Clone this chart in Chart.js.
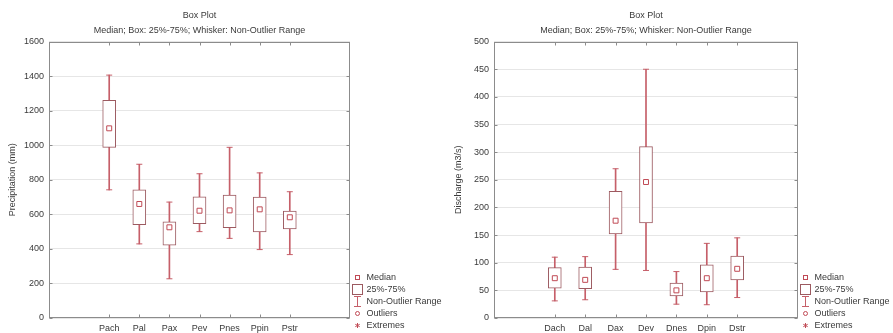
<!DOCTYPE html>
<html>
<head>
<meta charset="utf-8">
<title>Box Plot</title>
<script src="https://cdn.jsdelivr.net/npm/chart.js@4.4.1/dist/chart.umd.min.js"></script>
<style>
  html, body { margin: 0; padding: 0; background: #fff; }
  #wrap { display: flex; width: 893px; height: 333px; }
  canvas { display: block; }
</style>
</head>
<body>
<div id="wrap">
  <canvas id="precipChart" width="446" height="333"></canvas>
  <canvas id="dischargeChart" width="447" height="333"></canvas>
</div>
<script>
// Precipitation per station (mm)
const precipStations = ['Pach', 'Pal', 'Pax', 'Pev', 'Pnes', 'Ppin', 'Pstr'];
const precipMin    = [742, 429, 227, 500, 461, 396, 367];
const precipQ1     = [988, 540, 421, 546, 523, 498, 515];
const precipMedian = [1098, 660, 525, 621, 623, 629, 583];
const precipQ3     = [1260, 742, 556, 702, 711, 700, 619];
const precipMax    = [1406, 890, 671, 835, 988, 840, 731];
const precipTicks  = [0, 200, 400, 600, 800, 1000, 1200, 1400, 1600];

// Discharge per station (m3/s)
const dischargeStations = ['Dach', 'Dal', 'Dax', 'Dev', 'Dnes', 'Dpin', 'Dstr'];
const dischargeMin    = [31, 33, 88, 86, 25, 24, 37];
const dischargeQ1     = [54, 53, 152, 172, 40, 47, 69];
const dischargeMedian = [72, 69, 176, 246, 50, 72, 89];
const dischargeQ3     = [91, 92, 229, 310, 63, 96, 112];
const dischargeMax    = [110, 111, 270, 450, 84, 135, 145];
const dischargeTicks  = [0, 50, 100, 150, 200, 250, 300, 350, 400, 450, 500];

const legendNames = ['Median', '25%-75%', 'Non-Outlier Range', 'Outliers', 'Extremes'];

const FONT = '"Liberation Sans", Arial, sans-serif';
const TEXT = '#3a3a3a';
const FRAME = '#8c8c8c';
const GRID = '#e6e6e6';
const BOX_LINE = '#9c5a60';
const WHISKER = '#c65f69';
const MEDIAN = '#c04a55';

// two empty slots on each side of the stations, like the original axis
const pad = (arr) => [null, null, ...arr, null, null];

function glyph(w, h, draw) {
  const c = document.createElement('canvas');
  c.width = w; c.height = h;
  const g = c.getContext('2d');
  g.lineWidth = 1;
  draw(g);
  return c;
}

const legendGlyphs = [
  glyph(7, 7, g => { g.strokeStyle = MEDIAN; g.strokeRect(1.5, 1.5, 4, 4); }),
  glyph(11, 11, g => { g.strokeStyle = BOX_LINE; g.strokeRect(0.5, 0.5, 10, 10); }),
  glyph(9, 11, g => {
    g.strokeStyle = WHISKER;
    g.beginPath();
    g.moveTo(4.5, 0.5); g.lineTo(4.5, 10.5);
    g.moveTo(1, 0.5); g.lineTo(8, 0.5);
    g.moveTo(1, 10.5); g.lineTo(8, 10.5);
    g.stroke();
  }),
  glyph(7, 7, g => { g.strokeStyle = MEDIAN; g.beginPath(); g.arc(3.5, 3.5, 2, 0, Math.PI * 2); g.stroke(); }),
  glyph(7, 7, g => {
    g.strokeStyle = MEDIAN;
    g.beginPath();
    g.moveTo(3.5, 1); g.lineTo(3.5, 6);
    g.moveTo(1.3, 2.3); g.lineTo(5.7, 4.7);
    g.moveTo(1.3, 4.7); g.lineTo(5.7, 2.3);
    g.stroke();
  })
];

// plot frame with small inward tick marks on all four sides
const framePlugin = {
  id: 'frame',
  afterDraw(chart) {
    const { ctx, chartArea: a, scales } = chart;
    const l = Math.round(a.left) + 0.5, r = Math.round(a.right) - 0.5;
    const t = Math.round(a.top) + 0.5, b = Math.round(a.bottom) - 0.5;
    ctx.save();
    ctx.strokeStyle = FRAME;
    ctx.lineWidth = 1;
    ctx.strokeRect(l, t, r - l, b - t);
    ctx.beginPath();
    scales.x.ticks.forEach((tk, i) => {
      const x = Math.round(scales.x.getPixelForTick(i)) + 0.5;
      ctx.moveTo(x, t); ctx.lineTo(x, t + 3);
      ctx.moveTo(x, b); ctx.lineTo(x, b - 3);
    });
    scales.y.ticks.forEach((tk, i) => {
      const y = Math.round(scales.y.getPixelForTick(i)) + 0.5;
      ctx.moveTo(l, y); ctx.lineTo(l + 3, y);
      ctx.moveTo(r, y); ctx.lineTo(r - 3, y);
    });
    ctx.stroke();
    ctx.restore();
  }
};

function boxPlot(canvasId, stations, mins, q1s, medians, q3s, maxs, ticks, yTitle, axisWidth, legendWidth) {
  const labels = pad(stations);
  const boxes = pad(stations.map((_, i) => [q1s[i], q3s[i]]));
  const whiskers = pad(stations.map((_, i) => [mins[i], maxs[i]]));

  return new Chart(document.getElementById(canvasId), {
    type: 'bar',
    data: {
      labels,
      datasets: [
        {
          type: 'line', label: 'Median', data: pad(medians), showLine: false,
          pointStyle: 'rect', pointRadius: 3.5, pointBorderWidth: 1,
          pointBackgroundColor: '#fff', pointBorderColor: MEDIAN
        },
        {
          label: 'Box', data: boxes, grouped: false, barThickness: 13,
          backgroundColor: '#fff', borderColor: BOX_LINE, borderWidth: 1, borderSkipped: false
        },
        {
          type: 'line', label: 'Max', data: pad(maxs), showLine: false,
          pointStyle: 'line', pointRadius: 3, pointBorderWidth: 1, pointBorderColor: WHISKER
        },
        {
          type: 'line', label: 'Min', data: pad(mins), showLine: false,
          pointStyle: 'line', pointRadius: 3, pointBorderWidth: 1, pointBorderColor: WHISKER
        },
        {
          label: 'Whisker', data: whiskers, grouped: false, barThickness: 1,
          backgroundColor: WHISKER, borderWidth: 0
        }
      ]
    },
    options: {
      responsive: false,
      animation: false,
      layout: { padding: 0 },
      plugins: {
        title: {
          display: true, text: 'Box Plot', color: TEXT, fullSize: false,
          font: { family: FONT, size: 9, weight: 'normal' },
          padding: { top: 10, bottom: 3 }
        },
        subtitle: {
          display: true, text: 'Median; Box: 25%-75%; Whisker: Non-Outlier Range', color: TEXT, fullSize: false,
          font: { family: FONT, size: 9 },
          padding: { top: 1, bottom: 6 }
        },
        legend: {
          position: 'right', align: 'end', onClick: null, maxWidth: legendWidth,
          labels: {
            usePointStyle: true, boxWidth: 9, padding: 3, color: TEXT,
            font: { family: FONT, size: 9 },
            generateLabels: () => legendNames.map((name, i) => ({
              text: name, pointStyle: legendGlyphs[i], fontColor: TEXT,
              fillStyle: 'rgba(0,0,0,0)', strokeStyle: 'rgba(0,0,0,0)', lineWidth: 1, hidden: false
            }))
          }
        },
        tooltip: { enabled: false }
      },
      scales: {
        x: {
          offset: false,
          grid: { display: false, drawTicks: false, offset: false },
          border: { display: false },
          ticks: { color: TEXT, font: { family: FONT, size: 9 }, padding: 5, maxRotation: 0, autoSkip: false },
          afterFit: s => { s.height = 15; }
        },
        y: {
          min: ticks[0], max: ticks[ticks.length - 1],
          afterBuildTicks: s => { s.ticks = ticks.map(v => ({ value: v })); },
          grid: { color: GRID, drawTicks: false },
          border: { display: false },
          ticks: { color: TEXT, font: { family: FONT, size: 9 }, padding: 5, callback: v => String(v) },
          title: { display: true, text: yTitle, color: TEXT, font: { family: FONT, size: 9 }, padding: { top: 7, bottom: 0 } },
          afterFit: s => { s.width = axisWidth; }
        }
      }
    },
    plugins: [framePlugin]
  });
}

boxPlot('precipChart', precipStations, precipMin, precipQ1, precipMedian, precipQ3, precipMax,
  precipTicks, 'Precipitation (mm)', 49, 96);
boxPlot('dischargeChart', dischargeStations, dischargeMin, dischargeQ1, dischargeMedian, dischargeQ3, dischargeMax,
  dischargeTicks, 'Discharge (m3/s)', 48, 95);
</script>
</body>
</html>
